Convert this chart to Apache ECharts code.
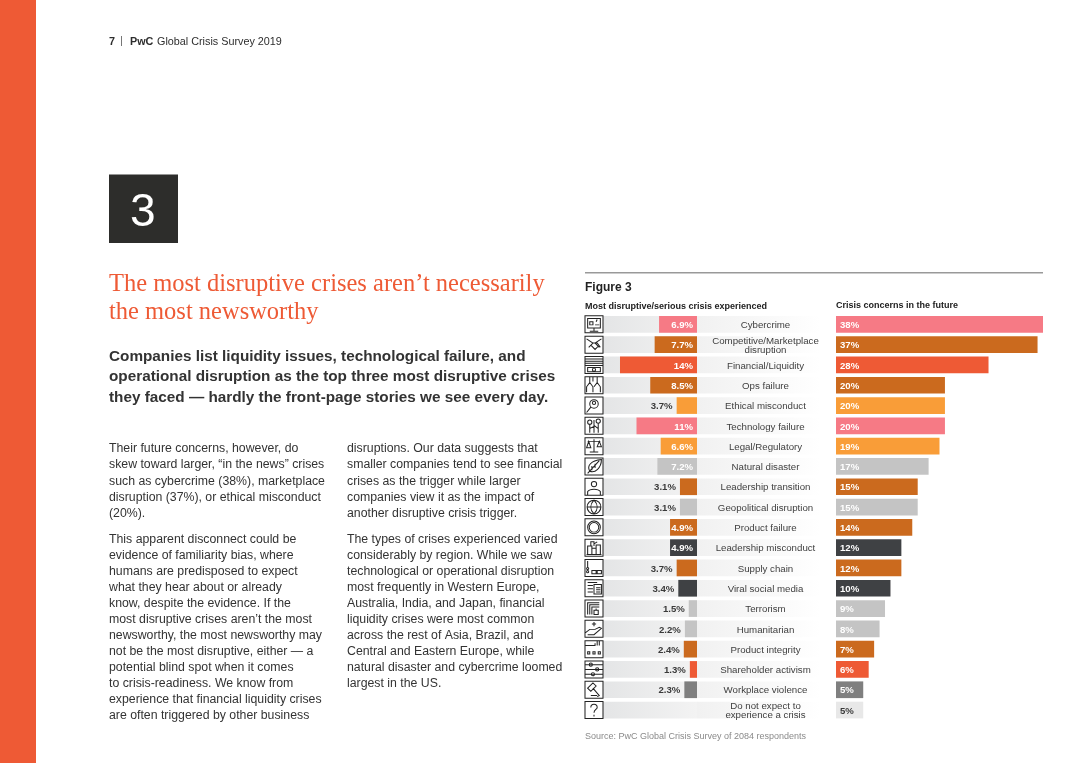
<!DOCTYPE html>
<html><head><meta charset="utf-8">
<style>html,body{margin:0;padding:0;background:#fff}#c{width:1080px;height:763px}</style>
<script src="https://cdn.jsdelivr.net/npm/echarts@6/dist/echarts.min.js"></script>
</head><body><div id="c"></div>
<script>
const categories=["Cybercrime","Competitive/Marketplace\ndisruption","Financial/Liquidity","Ops failure","Ethical misconduct","Technology failure","Legal/Regulatory","Natural disaster","Leadership transition","Geopolitical disruption","Product failure","Leadership misconduct","Supply chain","Viral social media","Terrorism","Humanitarian","Product integrity","Shareholder activism","Workplace violence","Do not expect to\nexperience a crisis"];
const experienced=[6.9,7.7,14,8.5,3.7,11,6.6,7.2,3.1,3.1,4.9,4.9,3.7,3.4,1.5,2.2,2.4,1.3,2.3,null];
const future=[38,37,28,20,20,20,19,17,15,15,14,12,12,10,9,8,7,6,5,5];
const barColors=["#f67a85","#cb6a1e","#ee5a35","#cb6a1e","#f99d38","#f67a85","#f99d38","#c4c4c4","#cb6a1e","#c4c4c4","#cb6a1e","#3f4144","#cb6a1e","#3f4144","#c4c4c4","#c4c4c4","#cb6a1e","#ee5a35","#7f7f7f","#e8e8e8"];
const box="M.5 .5H17.5V16.5H.5Z";
const iconDetails=[
"M3 3H15V12H3ZM9 12V15M5 15H13M5 6H8V9H5ZM10 9H14M11 6L12 4",
"M2 3L8 7L4 11M16 3L10 7L14 11M6 9L10 13L13 10M8 7L12 7L15 11",
"M.5 3H17.5M.5 5H17.5M.5 7H17.5M.5 9H17.5M3 11H15V15H3ZM9 13m-1.5 0a1.5 1.5 0 1 0 3 0a1.5 1.5 0 1 0 -3 0",
"M5 1V6L2 10V15M5 6L8 10V15M12 1V6L9 10M12 6L15 10V15M8 1V5",
"M9 7m-4 0a4 4 0 1 0 8 0a4 4 0 1 0 -8 0M9 6m-1.5 0a1.5 1.5 0 1 0 3 0a1.5 1.5 0 1 0 -3 0M6 10L2 15",
"M5 5m-2 0a2 2 0 1 0 4 0a2 2 0 1 0 -4 0M13 4m-2 0a2 2 0 1 0 4 0a2 2 0 1 0 -4 0M5 7V15M13 6V15M9 3V15M5 11L9 9M13 11L9 8",
"M9 2V14M5 14H13M3 4H15M4 4L2 10H6ZM14 4L12 9H16Z",
"M3 15L14 3M5 13C2 8 6 3 16 2C16 10 10 15 5 13M7 8V12M10 6V10",
"M9 6m-2.5 0a2.5 2.5 0 1 0 5 0a2.5 2.5 0 1 0 -5 0M3 16V13C5 10 13 10 15 13V16",
"M9 8.5m-6.5 0a6.5 6.5 0 1 0 13 0a6.5 6.5 0 1 0 -13 0M2.5 8.5H15.500M9 2C5 6 5 11 9 15C13 11 13 6 9 2",
"M9 8.500m-6 0a6 6 0 1 0 12 0a6 6 0 1 0 -12 0M9 8.500m-4.500 0a4.500 4.500 0 1 0 9 0a4.500 4.500 0 1 0 -9 0",
"M3 15V7H7V15M7 15V9H11V15M11 15V6H15V15M2 15H16M6 7V3H9V7M9 5L12 3",
"M3 2V8M3 8m-1 1a1 1 0 1 0 2 0a1 1 0 1 0 -2 0M3 11m-1 1a1 1 0 1 0 2 0a1 1 0 1 0 -2 0M7 11H11V14H7ZM12 11H16V14H12Z",
"M3 3H12M3 6H8M3 9H8M3 12H8M9 5H16V14H9ZM11 8H15M11 10H15M11 12H15",
"M3 14V3H14M5 14V5H14M7 14V7H14M11 10V8.500M9 10H13V14H9Z",
"M9 2V6M7 4H11M1 12L5 9H10L14 7L16 8L9 14H3",
"M1 5H10V3M12 1V5M14 1V5M3 11H5V13H3ZM8 11H10V13H8ZM13 11H15V13H13Z",
"M.5 4H17.5M.5 8.500H17.5M.5 13H17.5M6 4m-1.500 0a1.500 1.500 0 1 0 3 0a1.500 1.500 0 1 0 -3 0M12 8.500m-1.500 0a1.500 1.500 0 1 0 3 0a1.500 1.500 0 1 0 -3 0M8 13m-1.500 0a1.500 1.500 0 1 0 3 0a1.500 1.500 0 1 0 -3 0",
"M3 7L8 2L11 5L6 10ZM8 7L14 14L12 15M6 14H12",
"M6 6C6 2 12 2 12 6C12 8 9 8 9 11M9 13V14.500"
];
const headerLine="PwC";
const titleLines=["The most disruptive crises aren’t necessarily","the most newsworthy"];
const leadLines=["Companies list liquidity issues, technological failure, and","operational disruption as the top three most disruptive crises","they faced — hardly the front-page stories we see every day."];
const col1a=["Their future concerns, however, do","skew toward larger, “in the news” crises","such as cybercrime (38%), marketplace","disruption (37%), or ethical misconduct","(20%)."];
const col1b=["This apparent disconnect could be","evidence of familiarity bias, where","humans are predisposed to expect","what they hear about or already","know, despite the evidence. If the","most disruptive crises aren’t the most","newsworthy, the most newsworthy may","not be the most disruptive, either — a","potential blind spot when it comes","to crisis-readiness. We know from","experience that financial liquidity crises","are often triggered by other business"];
const col2a=["disruptions. Our data suggests that","smaller companies tend to see financial","crises as the trigger while larger","companies view it as the impact of","another disruptive crisis trigger."];
const col2b=["The types of crises experienced varied","considerably by region. While we saw","technological or operational disruption","most frequently in Western Europe,","Australia, India, and Japan, financial","liquidity crises were most common","across the rest of Asia, Brazil, and","Central and Eastern Europe, while","natural disaster and cybercrime loomed","largest in the US."];

const F="'Liberation Sans',Arial,sans-serif";
const TOP=314.2,H=406;
const grids=[
 {left:603,width:94,top:TOP,height:H},
 {left:697,width:137,top:TOP,height:H},
 {left:836,width:207,top:TOP,height:H},
 {left:585,width:18,top:TOP,height:H}
];
const cat=i=>({type:'category',gridIndex:i,inverse:true,data:categories,show:false});
const val=(i,max,inv)=>({type:'value',gridIndex:i,min:0,max:max,inverse:!!inv,show:false});
const grad=(a,b,end)=>new echarts.graphic.LinearGradient(0,0,1,0,[{offset:0,color:a},{offset:end||1,color:b}]);
const BW=16.7;
function txt(lines,x,y,style){return {type:'text',left:x,top:y,silent:true,style:Object.assign({text:lines.join('\n'),fill:'#333333',font:'12.3px '+F,lineHeight:16.05},style||{})};}
function rect(x,y,w,h,fill){return {type:'rect',shape:{x,y,width:w,height:h},style:{fill},silent:true};}
const option={
 animation:false,backgroundColor:'#fff',
 grid:grids,
 xAxis:[val(0,17.09,true),val(1,1),val(2,38),val(3,1)],
 yAxis:[cat(0),cat(1),cat(2),cat(3)],
 series:[
  {type:'bar',xAxisIndex:0,yAxisIndex:0,barWidth:BW,barGap:'-100%',silent:true,
   data:categories.map(()=>17.09),itemStyle:{color:grad('#e4e5e6','#f3f3f3')}},
  {type:'bar',xAxisIndex:0,yAxisIndex:0,barWidth:BW,barGap:'-100%',
   data:experienced.map((v,i)=>{
     if(v===null) return null;
     const inside=v>=4.5;
     return {value:v,itemStyle:{color:barColors[i]},
       label:{show:true,position:inside?'insideRight':'left',distance:4,offset:[0,1],color:inside?'#fff':'#3a3a3a',
         fontFamily:F,fontSize:9.6,fontWeight:'bold',formatter:(v>=10?String(v):v.toFixed(1))+'%'}};
   })},
  {type:'bar',xAxisIndex:1,yAxisIndex:1,barWidth:BW,silent:true,
   data:categories.map((c,i)=>({value:1,label:{show:true,position:'inside',offset:[0,1],formatter:c,color:'#404040',
     fontFamily:F,fontSize:9.7,lineHeight:9.2}})),
   itemStyle:{color:grad('#f1f1f1','#ffffff',0.9)}},
  {type:'bar',xAxisIndex:2,yAxisIndex:2,barWidth:BW,
   data:future.map((v,i)=>({value:v,itemStyle:{color:barColors[i]},
     label:{show:true,position:'insideLeft',distance:4,offset:[0,1],color:i===19?'#3a3a3a':'#fff',
       fontFamily:F,fontSize:9.6,fontWeight:'bold',formatter:v+'%'}}))},
  {type:'scatter',xAxisIndex:3,yAxisIndex:3,silent:true,
   symbolSize:[18,17],
   itemStyle:{color:'#fff',borderColor:'#222',borderWidth:1,borderJoin:'miter',opacity:1},
   data:iconDetails.map((d,i)=>({value:[0.5,i],symbol:'path://'+box+d}))}
 ],
 graphic:[
  rect(0,0,36,763,'#ee5a35'),
  rect(109,174.5,69,68.5,'#2d2d2b'),
  rect(585,272,458,1.5,'#999999'),
  {type:'text',left:130,top:190,silent:true,style:{text:'3',fill:'#fff',font:'46px '+F}},
  {type:'text',left:109,top:36.5,silent:true,style:{text:'7',fill:'#2d2d2d',font:'bold 10.8px '+F}},
  rect(121,36,0.8,10,'#555'),
  {type:'text',left:130,top:36.5,silent:true,style:{text:headerLine,fill:'#2d2d2d',font:'bold 10.8px '+F}},
  {type:'text',left:157,top:36.5,silent:true,style:{text:'Global Crisis Survey 2019',fill:'#2d2d2d',font:'10.8px '+F}},
  txt(titleLines,109,271,{fill:'#ee5a35',font:'24.5px "Liberation Serif",serif',lineHeight:28}),
  txt(leadLines,109,346,{font:'bold 15.3px '+F,lineHeight:20.8}),
  txt(col1a,109,441),txt(col1b,109,531.5),txt(col2a,347,441),txt(col2b,347,531.5),
  {type:'text',left:585,top:282,silent:true,style:{text:'Figure 3',fill:'#222',font:'bold 12px '+F}},
  {type:'text',left:585,top:302.5,silent:true,style:{text:'Most disruptive/serious crisis experienced',fill:'#222',font:'bold 9px '+F}},
  {type:'text',left:836,top:301.5,silent:true,style:{text:'Crisis concerns in the future',fill:'#222',font:'bold 9px '+F}},
  {type:'text',left:585,top:732,silent:true,style:{text:'Source: PwC Global Crisis Survey of 2084 respondents',fill:'#8a8a8a',font:'9px '+F}}
 ]
};
echarts.init(document.getElementById('c')).setOption(option);
</script></body></html>
